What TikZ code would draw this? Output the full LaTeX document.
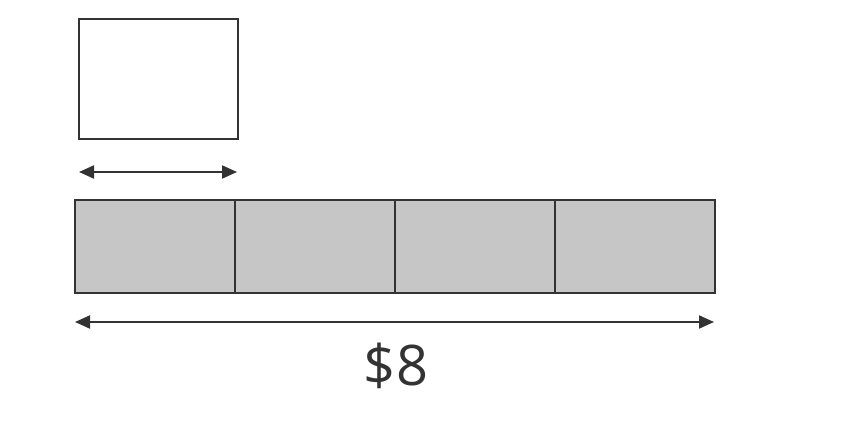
\documentclass[tikz,border=0pt]{standalone}
\usepackage{fontspec}
\setmainfont{Open Sans}
\usetikzlibrary{arrows.meta}

\definecolor{ink}{HTML}{333333}
\definecolor{shade}{HTML}{C6C6C6}

\tikzset{
  part/.style={draw=ink, line width=2.2pt, fill=shade, minimum width=160pt, minimum height=93pt, inner sep=0pt},
  unitbox/.style={draw=ink, line width=2.2pt, fill=white, minimum width=159pt, minimum height=120pt, inner sep=0pt},
  span/.style={draw=ink, line width=2pt, {Triangle[length=15pt,width=13pt]}-{Triangle[length=15pt,width=13pt]}}
}

\begin{document}
\begin{tikzpicture}[x=1pt,y=-1pt]
\useasboundingbox (0,0) rectangle (863,433);

% One unit
\node[unitbox] (unit) at (158.5,79) {};

% Arrow under the unit
\coordinate (ua) at (79,172);
\coordinate (ub) at (237,172);
\draw[span] (ua) -- (ub);

% Bar of four parts
\foreach \i/\x in {1/155, 2/315, 3/475, 4/635} {
    \node[part] (p\i) at (\x,246.5) {};
}

% Arrow under the bar
\coordinate (ba) at (75,322);
\coordinate (bb) at (714,322);
\draw[span] (ba) -- (bb);

% Total
\node[text=ink, font=\fontsize{56}{60}\selectfont] (total) at (396,366) {\$8};

\end{tikzpicture}
\end{document}
